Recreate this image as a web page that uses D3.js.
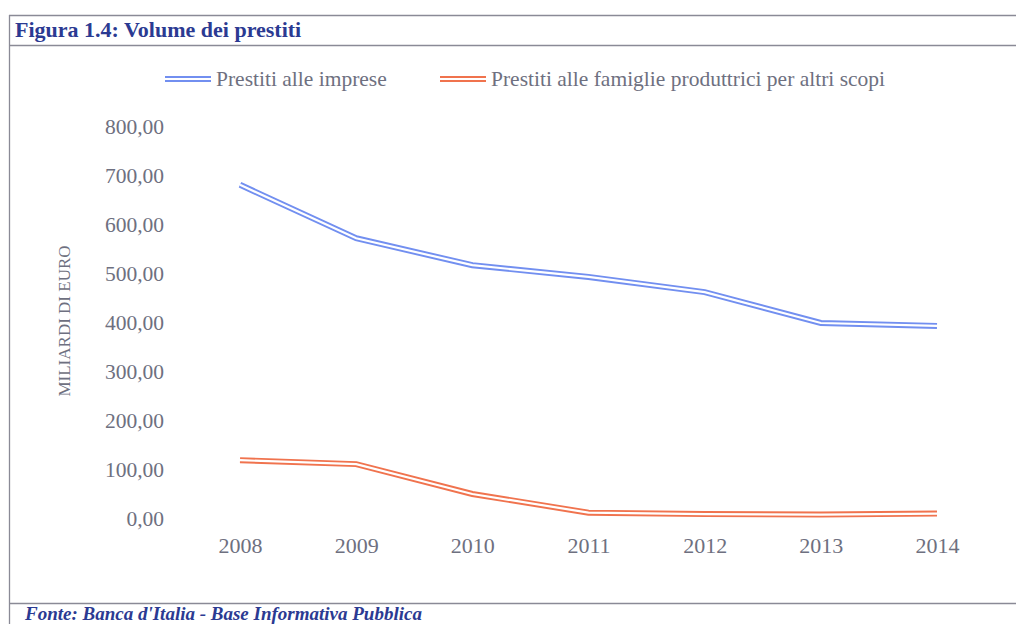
<!DOCTYPE html>
<html>
<head>
<meta charset="utf-8">
<script src="https://cdn.jsdelivr.net/npm/d3@7"></script>
<style>
  body { margin: 0; background: #fff; }
  svg { display: block; }
</style>
</head>
<body>
<svg id="chart" width="1016" height="624"></svg>
<script>
'use strict';

const years = ["2008", "2009", "2010", "2011", "2012", "2013", "2014"];
const imprese = [682, 573, 518, 494, 463, 400, 394];
const famiglie = [120, 112, 51, 13, 10, 9, 11];
const yTicks = [0, 100, 200, 300, 400, 500, 600, 700, 800];
const seriesNames = ["Prestiti alle imprese", "Prestiti alle famiglie produttrici per altri scopi"];
const seriesColors = ["#728ff0", "#f0734e"];

const svg = d3.select("#chart");
const serif = "'Liberation Serif', 'DejaVu Serif', serif";
const textGray = "#6e7080";

// frame
const frame = svg.append("g").attr("stroke", "#8a8a96").attr("stroke-width", 1.3).attr("fill", "none");
frame.append("line").attr("x1", 9).attr("x2", 1016).attr("y1", 15.5).attr("y2", 15.5);
frame.append("line").attr("x1", 9).attr("x2", 1016).attr("y1", 45.5).attr("y2", 45.5);
frame.append("line").attr("x1", 9.5).attr("x2", 9.5).attr("y1", 15).attr("y2", 624);
frame.append("line").attr("x1", 9).attr("x2", 1016).attr("y1", 603.5).attr("y2", 603.5);

svg.append("text")
    .attr("x", 15).attr("y", 37)
    .attr("font-family", serif).attr("font-weight", "bold").attr("font-size", "22px")
    .attr("fill", "#2b3a92")
    .text("Figura 1.4: Volume dei prestiti");

// source line, partly cut by the page edge as in the scan
svg.append("text")
    .attr("x", 25).attr("y", 620)
    .attr("font-family", serif).attr("font-weight", "bold").attr("font-style", "italic")
    .attr("font-size", "19px").attr("fill", "#2b3a92")
    .text("Fonte: Banca d'Italia - Base Informativa Pubblica");

// scales
const x = d3.scalePoint().domain(years).range([240, 937]);
const y = d3.scaleLinear().domain([0, 800]).range([519, 127]);

// y axis
const yAxis = svg.append("g")
    .attr("transform", "translate(164,0)")
    .call(d3.axisLeft(y).tickValues(yTicks).tickSize(0).tickPadding(0)
        .tickFormat(d => d3.format(".2f")(d).replace(".", ",")));
yAxis.select(".domain").remove();
yAxis.selectAll("text")
    .attr("font-family", serif).attr("font-size", "21.5px").attr("fill", textGray);

// x axis
const xAxis = svg.append("g")
    .attr("transform", "translate(0,537)")
    .call(d3.axisBottom(x).tickSize(0).tickPadding(0));
xAxis.select(".domain").remove();
xAxis.selectAll("text")
    .attr("font-family", serif).attr("font-size", "22px").attr("fill", textGray);

svg.append("text")
    .attr("transform", "translate(70,321) rotate(-90)")
    .attr("text-anchor", "middle")
    .attr("font-family", serif).attr("font-size", "17px").attr("fill", textGray)
    .text("MILIARDI DI EURO");

// double lines
const line = d3.line().x((d, i) => x(years[i])).y(d => y(d));
[imprese, famiglie].forEach((vals, k) => {
    svg.append("path").datum(vals)
        .attr("d", line).attr("fill", "none")
        .attr("stroke", seriesColors[k]).attr("stroke-width", 6);
    svg.append("path").datum(vals)
        .attr("d", line).attr("fill", "none")
        .attr("stroke", "#fff").attr("stroke-width", 2.2);
});

// legend
const legendX = [165, 440];
seriesNames.forEach((name, k) => {
    const g = svg.append("g").attr("transform", `translate(${legendX[k]},79)`);
    g.append("line").attr("x1", 0).attr("x2", 46).attr("y1", 0).attr("y2", 0)
        .attr("stroke", seriesColors[k]).attr("stroke-width", 6);
    g.append("line").attr("x1", 0).attr("x2", 46).attr("y1", 0).attr("y2", 0)
        .attr("stroke", "#fff").attr("stroke-width", 2.2);
    g.append("text").attr("x", 51).attr("y", 7)
        .attr("font-family", serif).attr("font-size", "21.5px").attr("fill", textGray)
        .text(name);
});
</script>
</body>
</html>
